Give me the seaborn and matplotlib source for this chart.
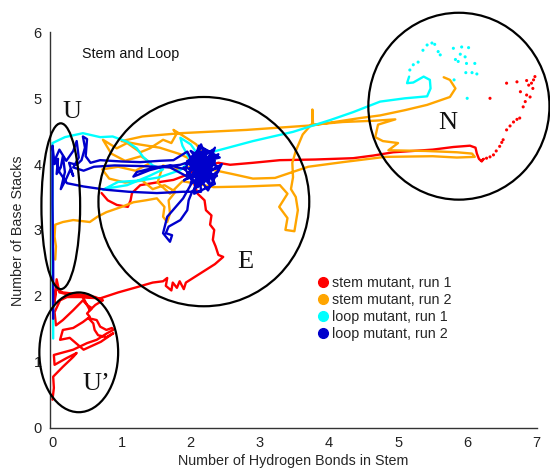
import matplotlib
matplotlib.use("Agg")
import numpy as np
import pandas as pd
import matplotlib.pyplot as plt
import seaborn as sns
from matplotlib.patches import Ellipse
from matplotlib.lines import Line2D

# ---------------- data ----------------
series_names = ["stem mutant, run 1", "stem mutant, run 2",
                "loop mutant, run 1", "loop mutant, run 2"]
series_colors = ["#ff0000", "#ffa500", "#00ffff", "#0000cc"]

# stem mutant, run 1 (red) - main trajectory
red_x = [0.00, 0.02, 0.01, 0.15, 0.30, 0.35, 0.20, 0.03, 0.02, 0.30, 0.50, 0.64, 0.79, 0.88,
         0.86, 0.78, 0.69, 0.64, 0.52, 0.59, 0.61, 0.66, 0.78, 0.88, 0.70, 0.45, 0.25, 0.11,
         0.15, 0.30, 0.44, 0.54, 0.50, 0.57, 0.50, 0.44, 0.30, 0.15, 0.05, 0.03, 0.11, 0.21,
         0.44, 0.54, 0.62, 0.73, 0.62, 0.40, 0.15, 0.05, 0.03, 0.06, 0.10, 0.30, 0.50, 0.69,
         0.95, 1.22, 1.45, 1.60, 1.66, 1.64, 1.72, 1.74, 1.80, 1.84, 1.90, 1.93, 2.05, 2.20,
         2.35, 2.47, 2.40, 2.36, 2.32, 2.34, 2.28, 2.30, 2.22, 2.20, 2.10, 2.05, 2.12, 2.25,
         2.40, 2.57, 2.90, 3.29, 3.80, 4.35, 4.64, 4.93, 5.50, 5.80, 6.04, 6.12, 6.14, 6.17,
         6.20, 6.24, 6.21]
red_y = [0.42, 0.60, 0.77, 0.92, 1.07, 1.13, 1.05, 0.95, 1.10, 1.18, 1.28, 1.33, 1.43, 1.48,
         1.51, 1.48, 1.53, 1.63, 1.66, 1.58, 1.48, 1.40, 1.37, 1.43, 1.30, 1.18, 1.36, 1.33,
         1.48, 1.51, 1.60, 1.68, 1.73, 1.81, 1.86, 1.93, 1.78, 1.63, 1.55, 1.75, 1.93, 1.98,
         1.98, 1.78, 1.86, 1.93, 1.98, 2.02, 2.05, 2.10, 1.90, 2.25, 2.05, 2.00, 1.97, 1.96,
         2.05, 2.13, 2.20, 2.22, 2.27, 2.15, 2.08, 2.20, 2.12, 2.22, 2.10, 2.20, 2.28, 2.38,
         2.48, 2.59, 2.62, 2.75, 2.85, 3.00, 3.08, 3.22, 3.30, 3.45, 3.55, 3.70, 3.85, 3.98,
         4.02, 3.99, 4.02, 4.06, 4.07, 4.09, 4.13, 4.18, 4.22, 4.26, 4.28, 4.25, 4.16, 4.08,
         4.05, 4.08, 4.04]
# red - short branch on the left of the E basin
red2_x = [0.71, 0.80, 0.93, 1.09, 1.13, 1.15, 1.27, 1.50, 1.75, 1.95, 2.05]
red2_y = [3.56, 3.45, 3.38, 3.35, 3.45, 3.56, 3.68, 3.72, 3.76, 3.84, 3.90]
# red - sparse points in the N basin
red_dot_x = [6.28, 6.33, 6.38, 6.42, 6.47, 6.50, 6.52, 6.57, 6.62, 6.67, 6.72, 6.76, 6.81,
             6.84, 6.91, 6.86, 6.77, 6.95, 6.93, 6.98, 6.86, 6.72, 6.57, 6.33, 6.89, 6.96]
red_dot_y = [4.09, 4.11, 4.14, 4.20, 4.27, 4.33, 4.37, 4.52, 4.58, 4.64, 4.68, 4.70, 4.87,
             4.95, 5.02, 5.05, 5.10, 5.15, 5.23, 5.33, 5.27, 5.25, 5.23, 5.00, 5.20, 5.28]

# stem mutant, run 2 (orange)
orange_x = [0.04, 0.05, 0.03, 0.04, 0.15, 0.30, 0.54, 0.65, 0.78, 1.00, 1.17, 1.35, 1.51, 1.62,
            1.60, 1.66, 1.70, 1.68, 1.78, 1.62, 1.45, 1.30, 1.05, 0.82, 0.72, 0.95, 1.20, 1.42,
            1.28, 1.05, 0.85, 0.73, 0.93, 1.08, 1.27, 1.41, 1.60, 1.72, 1.80, 1.75, 1.95, 2.08,
            2.20, 2.02, 1.78, 1.60, 1.52, 1.70, 1.88, 2.10, 2.33, 2.80, 3.29, 3.40, 3.28, 3.40,
            3.37, 3.50, 3.55, 3.52, 3.45, 3.48, 3.47, 3.52, 3.62, 3.76, 3.76, 3.77, 4.20, 4.67,
            4.96, 4.71, 4.67, 4.78, 5.00, 4.86, 5.40, 5.85, 6.07, 6.11, 5.85, 5.50, 4.81, 4.20,
            3.70, 3.22, 2.90, 2.60, 2.33, 2.10, 1.85, 1.55, 1.25, 1.00, 1.30, 1.85, 2.81, 3.77,
            4.45, 4.74, 5.10, 5.42, 5.75, 5.83, 5.75, 5.66]
orange_y = [2.55, 2.75, 2.90, 3.08, 3.12, 3.15, 3.12, 3.20, 3.27, 3.35, 3.42, 3.45, 3.48, 3.35,
            3.20, 3.12, 3.25, 3.45, 3.58, 3.68, 3.62, 3.75, 3.72, 3.78, 3.92, 3.96, 3.90, 4.02,
            4.12, 4.05, 4.16, 4.37, 4.24, 4.32, 4.18, 4.24, 4.37, 4.32, 4.47, 4.52, 4.39, 4.30,
            4.12, 3.96, 3.92, 3.98, 3.72, 3.55, 3.74, 3.70, 3.65, 3.66, 3.68, 3.55, 3.35, 3.18,
            3.00, 2.98, 3.30, 3.50, 3.62, 3.80, 4.02, 4.20, 4.45, 4.62, 4.83, 4.60, 4.64, 4.66,
            4.68, 4.60, 4.41, 4.35, 4.32, 4.21, 4.20, 4.18, 4.16, 4.11, 4.10, 4.12, 4.11, 4.03,
            3.96, 3.79, 3.78, 3.85, 3.91, 4.02, 4.15, 4.25, 4.30, 4.35, 4.42, 4.47, 4.52, 4.59,
            4.70, 4.74, 4.82, 4.90, 5.02, 5.15, 5.28, 5.32]

# loop mutant, run 1 (cyan)
cyan_x = [0.01, 0.01, 0.00, 0.00, 0.00, 0.18, 0.44, 0.69, 0.87, 1.08, 1.22, 1.31, 1.45, 1.60,
          1.40, 1.08, 0.79, 0.73, 0.95, 1.27, 1.55, 1.85, 2.00, 1.88, 1.85, 2.00, 2.10, 2.33,
          2.90, 3.48, 4.02, 4.35, 4.74, 5.10, 5.42, 5.47, 5.46, 5.37, 5.22, 5.13, 5.16]
cyan_y = [1.35, 1.65, 2.40, 3.50, 4.32, 4.41, 4.47, 4.41, 4.42, 4.34, 4.24, 4.11, 3.98, 3.92,
          3.82, 3.68, 3.63, 3.61, 3.73, 3.75, 3.80, 3.91, 4.05, 4.28, 4.40, 4.30, 4.15, 4.19,
          4.35, 4.49, 4.67, 4.79, 4.95, 5.00, 5.03, 5.15, 5.28, 5.33, 5.24, 5.23, 5.33]
cyan_dot_x = [5.17, 5.22, 5.29, 5.36, 5.42, 5.49, 5.53, 5.58, 5.61, 5.80, 5.90, 5.92, 6.02,
              5.83, 5.87, 5.97, 5.99, 6.11, 5.98, 6.07, 6.14, 6.00, 5.81]
cyan_dot_y = [5.43, 5.51, 5.55, 5.73, 5.81, 5.84, 5.82, 5.71, 5.66, 5.76, 5.67, 5.78, 5.77,
              5.59, 5.56, 5.63, 5.53, 5.53, 5.39, 5.39, 5.37, 5.00, 5.28]

# loop mutant, run 2 (blue)
blue_x = [0.01, 0.01, 0.00, 0.00, 0.03, 0.08, 0.06, 0.12, 0.15, 0.18, 0.12, 0.20, 0.26, 0.30,
          0.24, 0.35, 0.42, 0.47, 0.44, 0.50, 0.48, 0.55, 0.69, 1.00, 1.27, 1.55, 1.75, 1.95,
          2.02, 1.85, 1.60, 1.41, 1.17, 1.22, 1.45, 1.70, 1.92, 2.00, 2.15, 2.30, 2.05, 2.35,
          2.20, 1.95, 2.25, 2.40, 2.10, 1.90, 2.30, 2.15, 2.00, 2.45, 2.25, 1.95, 2.20, 2.35,
          2.05, 2.10, 2.40, 1.90, 2.20,
          2.05, 2.25, 2.12, 2.32, 2.02, 2.28, 2.18, 1.98, 2.38, 2.08, 2.22, 2.42, 2.12, 1.96,
          2.30, 2.15, 2.35, 2.05, 2.26, 2.00, 2.40, 2.18, 2.08, 2.32, 2.20, 1.93, 2.28, 2.12,
          2.15, 1.89, 1.51, 1.10, 0.78, 0.45, 0.21, 0.10, 0.05,
          0.10, 0.20, 0.30, 0.35, 0.38, 0.30, 0.45, 0.60, 0.90, 1.30, 1.70, 2.04, 1.89, 1.66,
          1.60, 1.70, 1.73, 1.64, 1.68, 1.85, 1.95, 1.97, 2.02, 2.20, 2.30, 2.10, 2.25, 2.05]
blue_y = [1.65, 2.50, 3.40, 4.28, 4.00, 4.08, 3.85, 3.95, 4.12, 3.88, 3.62, 3.78, 3.92, 3.82,
          4.02, 3.99, 4.06, 4.25, 4.42, 4.38, 4.12, 4.02, 4.06, 4.04, 4.03, 4.05, 4.06, 4.19,
          4.05, 3.99, 3.96, 3.91, 3.81, 3.88, 3.94, 3.98, 3.92, 4.10, 4.25, 4.15, 3.90, 4.05,
          3.75, 3.85, 4.20, 3.90, 3.65, 3.95, 3.85, 4.30, 3.70, 4.00, 3.60, 4.05, 4.10, 3.70,
          3.55, 4.00, 4.15, 3.75, 3.95,
          4.15, 3.95, 3.80, 4.22, 4.00, 3.68, 4.18, 3.92, 3.82, 3.72, 4.05, 4.10, 4.28, 3.78,
          3.98, 3.70, 4.25, 3.62, 3.85, 4.20, 3.95, 3.88, 4.08, 3.75, 4.22, 4.00, 4.10, 3.95,
          3.58, 3.58, 3.56, 3.58, 3.61, 3.66, 3.71, 3.88, 4.10,
          4.22, 4.05, 4.20, 4.35, 4.10, 3.95, 3.90, 3.96, 3.98, 3.97, 3.95, 3.76, 3.48, 3.20,
          2.95, 2.82, 2.92, 2.95, 3.05, 3.15, 3.30, 3.45, 3.58, 3.80, 4.05, 4.20, 3.90, 3.85]

x_ticks = [0, 1, 2, 3, 4, 5, 6, 7]
y_ticks = [0, 1, 2, 3, 4, 5, 6]
x_label = "Number of Hydrogen Bonds in Stem"
y_label = "Number of Base Stacks"
panel_title = "Stem and Loop"
# basin annotations: label, centre x, centre y, width, height, label x, label y
basin_names = ["U", "U\u2019", "E", "N"]
basin_cx = [0.12, 0.38, 2.19, 5.88]
basin_cy = [3.36, 1.14, 3.43, 4.88]
basin_w = [0.56, 1.14, 3.05, 2.62]
basin_h = [2.52, 1.82, 3.18, 2.84]
basin_lx = [0.28, 0.64, 2.79, 5.72]
basin_ly = [4.70, 0.57, 2.42, 4.53]

# ---------------- build tables ----------------
def make_lines(name, parts):
    rows = []
    for k, (xs, ys) in enumerate(parts):
        for i, (a, b) in enumerate(zip(xs, ys)):
            rows.append({"x": a, "y": b, "series": name, "seg": f"{name}-{k}", "order": i})
    return pd.DataFrame(rows)

line_tables = [
    make_lines(series_names[0], [(red_x, red_y), (red2_x, red2_y)]),
    make_lines(series_names[1], [(orange_x, orange_y)]),
    make_lines(series_names[2], [(cyan_x, cyan_y)]),
    make_lines(series_names[3], [(blue_x, blue_y)]),
]
dot_tables = [
    pd.DataFrame({"x": red_dot_x, "y": red_dot_y, "series": series_names[0]}),
    pd.DataFrame({"x": cyan_dot_x, "y": cyan_dot_y, "series": series_names[2]}),
]
palette = dict(zip(series_names, series_colors))

# ---------------- plot ----------------
sns.set_style("white")
plt.rcParams["font.family"] = ["Liberation Sans", "DejaVu Sans"]

fig = plt.figure(figsize=(5.5, 4.7), dpi=100)
ax = fig.add_axes([50 / 550, 42 / 470, 487 / 550, 395.5 / 470])

for tbl in line_tables:
    sns.lineplot(data=tbl, x="x", y="y", hue="series", units="seg", estimator=None,
                 sort=False, palette=palette, linewidth=1.7, legend=False, ax=ax)
for tbl in dot_tables:
    sns.scatterplot(data=tbl, x="x", y="y", hue="series", palette=palette, s=5,
                    linewidth=0, legend=False, ax=ax)

for name, cx, cy, w, h, lx, ly in zip(basin_names, basin_cx, basin_cy, basin_w, basin_h,
                                      basin_lx, basin_ly):
    ax.add_patch(Ellipse((cx, cy), w, h, fill=False, edgecolor="black", linewidth=1.6,
                         clip_on=False, zorder=5))
    ax.text(lx, ly, name, ha="center", va="baseline", fontsize=19,
            family=["Liberation Serif", "DejaVu Serif"], color="#111111", zorder=6)

ax.text(0.43, 5.61, panel_title, fontsize=10.3, ha="left", va="baseline", color="#111111")

ax.set_xlim(-0.036, 7.01)
ax.set_ylim(-0.01, 6.0)
ax.set_xticks(x_ticks)
ax.set_yticks(y_ticks)
ax.set_xlabel(x_label, fontsize=10.3, labelpad=3)
ax.set_ylabel(y_label, fontsize=10.3, labelpad=6)
ax.tick_params(direction="out", length=4, width=1, colors="#222222", labelsize=10.5, pad=2)
for side in ["top", "right"]:
    ax.spines[side].set_visible(False)
for side in ["left", "bottom"]:
    ax.spines[side].set_color("#333333")
    ax.spines[side].set_linewidth(1.0)

handles = [Line2D([], [], linestyle="none", marker="o", markersize=7,
                  markerfacecolor=c, markeredgecolor=c) for c in series_colors]
ax.legend(handles, series_names, loc="upper left", bbox_to_anchor=(0.549, 0.384),
          frameon=False, fontsize=10.3, handlelength=0.8, handletextpad=0.25,
          labelspacing=0.2, borderpad=0, borderaxespad=0)

fig.savefig("out.png", dpi=100)
